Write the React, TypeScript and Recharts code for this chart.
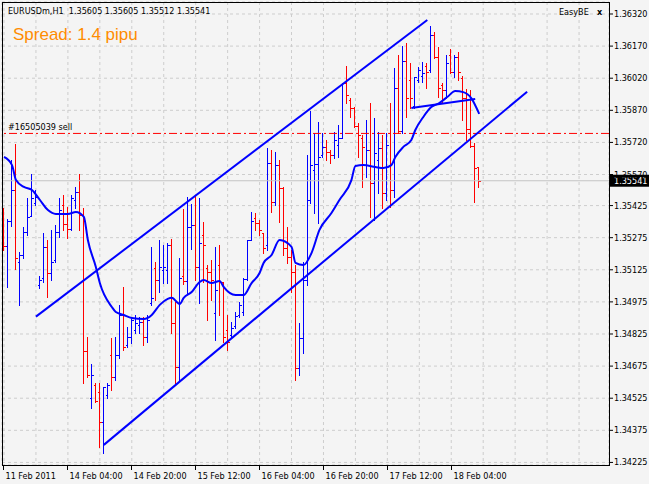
import { ComposedChart, Bar, Line, XAxis, YAxis, CartesianGrid, ReferenceLine } from 'recharts';

// EURUSDm H1 bars, 11 Feb - 18 Feb 2011
const opens = [
  1.35395, 1.35236, 1.35353, 1.35498, 1.35161, 1.35194, 1.35302, 1.35376, 1.35437, 1.35054,
  1.35087, 1.35232, 1.35110, 1.35171, 1.35302, 1.35428, 1.35339, 1.35316, 1.35451, 1.35488,
  1.35381, 1.34746, 1.34526, 1.34587, 1.34554, 1.34414, 1.34540, 1.34727, 1.34624, 1.34727,
  1.34914, 1.34774, 1.34811, 1.34844, 1.34867, 1.34881, 1.34811, 1.34970, 1.35133, 1.35077,
  1.35124, 1.35124, 1.35241, 1.34877, 1.34671, 1.35096, 1.35073, 1.35325, 1.35334, 1.35138,
  1.35288, 1.35133, 1.35115, 1.34923, 1.35147, 1.35068, 1.34844, 1.34821, 1.34863, 1.34914,
  1.34928, 1.35082, 1.35264, 1.35367, 1.35344, 1.35297, 1.35241, 1.35624, 1.35442, 1.35614,
  1.35507, 1.35227, 1.35185, 1.35115, 1.34666, 1.34807, 1.35077, 1.35451, 1.35591, 1.35619,
  1.35661, 1.35699, 1.35675, 1.35661, 1.35708, 1.35741, 1.35997, 1.35918, 1.35881, 1.35797,
  1.35741, 1.35614, 1.35685, 1.35530, 1.35638, 1.35694, 1.35484, 1.35764, 1.35498, 1.35974,
  1.35773, 1.36100, 1.36011, 1.35890, 1.36011, 1.36030, 1.36077, 1.36058, 1.36222, 1.36119,
  1.35988, 1.35965, 1.36128, 1.36049, 1.36119, 1.36021, 1.35927, 1.35783, 1.35703, 1.35605,
];
const highs = [
  1.35414, 1.35362, 1.35638, 1.35713, 1.35208, 1.35325, 1.35460, 1.35572, 1.35498, 1.35096,
  1.35297, 1.35264, 1.35311, 1.35334, 1.35460, 1.35474, 1.35418, 1.35474, 1.35512, 1.35572,
  1.35414, 1.34811, 1.34685, 1.34596, 1.34596, 1.34578, 1.34596, 1.34807, 1.34811, 1.34961,
  1.35045, 1.34858, 1.34895, 1.34914, 1.34905, 1.34905, 1.34914, 1.35232, 1.35161, 1.35264,
  1.35241, 1.35250, 1.35269, 1.34975, 1.35180, 1.35409, 1.35465, 1.35432, 1.35474, 1.35460,
  1.35348, 1.35147, 1.35171, 1.35232, 1.35241, 1.35068, 1.34914, 1.34881, 1.34928, 1.34975,
  1.35087, 1.35264, 1.35395, 1.35390, 1.35358, 1.35297, 1.35694, 1.35685, 1.35675, 1.35638,
  1.35512, 1.35325, 1.35218, 1.35147, 1.34877, 1.35161, 1.35661, 1.35867, 1.35764, 1.35815,
  1.35764, 1.35731, 1.35685, 1.35769, 1.35801, 1.35997, 1.36077, 1.35927, 1.35885, 1.35811,
  1.35755, 1.35825, 1.35904, 1.35834, 1.35769, 1.35755, 1.35764, 1.35904, 1.36067, 1.36128,
  1.36170, 1.36184, 1.36091, 1.36025, 1.36072, 1.36095, 1.36091, 1.36264, 1.36236, 1.36166,
  1.35997, 1.36128, 1.36156, 1.36128, 1.36142, 1.36030, 1.35969, 1.35965, 1.35717, 1.35605,
];
const lows = [
  1.35218, 1.35045, 1.35330, 1.35129, 1.34961, 1.35180, 1.35288, 1.35376, 1.35428, 1.35040,
  1.35068, 1.34998, 1.35077, 1.35161, 1.35278, 1.35311, 1.35274, 1.35311, 1.35414, 1.35311,
  1.34596, 1.34624, 1.34480, 1.34508, 1.34298, 1.34270, 1.34526, 1.34564, 1.34610, 1.34713,
  1.34751, 1.34765, 1.34783, 1.34830, 1.34830, 1.34774, 1.34788, 1.34961, 1.34984, 1.35021,
  1.35063, 1.35063, 1.34830, 1.34596, 1.34610, 1.35059, 1.35017, 1.35222, 1.35077, 1.34970,
  1.35068, 1.34891, 1.34984, 1.34797, 1.34914, 1.34788, 1.34751, 1.34811, 1.34853, 1.34905,
  1.34914, 1.35077, 1.35264, 1.35311, 1.35288, 1.35204, 1.35218, 1.35395, 1.35428, 1.35348,
  1.35194, 1.35157, 1.35021, 1.34610, 1.34634, 1.34737, 1.35054, 1.35437, 1.35390, 1.35344,
  1.35652, 1.35638, 1.35624, 1.35647, 1.35652, 1.35741, 1.35904, 1.35839, 1.35792, 1.35652,
  1.35512, 1.35558, 1.35372, 1.35358, 1.35484, 1.35414, 1.35451, 1.35418, 1.35465, 1.35764,
  1.35764, 1.35839, 1.35881, 1.35881, 1.36002, 1.36002, 1.35974, 1.36049, 1.36114, 1.35932,
  1.35909, 1.35927, 1.36044, 1.36025, 1.36011, 1.35825, 1.35731, 1.35699, 1.35442, 1.35512,
];
const closes = [
  1.35236, 1.35353, 1.35498, 1.35180, 1.35194, 1.35302, 1.35372, 1.35460, 1.35465, 1.35077,
  1.35232, 1.35110, 1.35161, 1.35302, 1.35404, 1.35339, 1.35316, 1.35460, 1.35488, 1.35381,
  1.34746, 1.34634, 1.34634, 1.34512, 1.34414, 1.34578, 1.34587, 1.34624, 1.34727, 1.34914,
  1.34765, 1.34811, 1.34891, 1.34877, 1.34881, 1.34811, 1.34891, 1.34993, 1.35077, 1.35138,
  1.35138, 1.35241, 1.34877, 1.34671, 1.35087, 1.35073, 1.35325, 1.35334, 1.35138, 1.35250,
  1.35241, 1.35115, 1.35077, 1.35031, 1.35068, 1.34811, 1.34788, 1.34853, 1.34909, 1.34961,
  1.35082, 1.35264, 1.35353, 1.35344, 1.35311, 1.35227, 1.35624, 1.35442, 1.35614, 1.35507,
  1.35227, 1.35185, 1.35115, 1.34666, 1.34807, 1.35077, 1.35451, 1.35614, 1.35619, 1.35652,
  1.35699, 1.35675, 1.35661, 1.35731, 1.35741, 1.35997, 1.35941, 1.35881, 1.35797, 1.35755,
  1.35699, 1.35685, 1.35530, 1.35671, 1.35694, 1.35484, 1.35708, 1.35498, 1.35974, 1.35773,
  1.36100, 1.35927, 1.35927, 1.36025, 1.36058, 1.36044, 1.36049, 1.36222, 1.36119, 1.35974,
  1.35965, 1.36091, 1.36049, 1.36119, 1.36049, 1.35927, 1.35783, 1.35703, 1.35600, 1.35541,
];

// moving average, read at some bars
const maBars = [0, 2, 3, 5, 7, 9, 11, 13, 16, 18, 20, 21, 23, 24, 27, 28, 30, 32, 35, 37, 39, 41, 42, 44, 45, 47, 49, 50, 52, 54, 55, 58, 60, 62, 64, 65, 67, 69, 72, 73, 75, 77, 79, 82, 84, 87, 88, 90, 93, 95, 97, 98, 100, 102, 103, 105, 107, 109, 111, 113, 115, 117, 119];
const maValues = [1.35652, 1.35614, 1.35544, 1.35512, 1.35498, 1.35451, 1.35404, 1.35386, 1.35386, 1.35395, 1.35372, 1.35264, 1.35138, 1.35063, 1.34951, 1.34928, 1.34914, 1.34900, 1.34895, 1.34914, 1.34961, 1.34989, 1.34994, 1.34965, 1.34994, 1.35021, 1.35068, 1.35077, 1.35063, 1.35073, 1.35045, 1.35007, 1.35007, 1.35063, 1.35110, 1.35157, 1.35194, 1.35264, 1.35232, 1.35157, 1.35147, 1.35203, 1.35311, 1.35390, 1.35451, 1.35544, 1.35610, 1.35614, 1.35605, 1.35600, 1.35614, 1.35652, 1.35699, 1.35731, 1.35778, 1.35839, 1.35885, 1.35904, 1.35932, 1.35960, 1.35955, 1.35927, 1.35853];

// trend lines: [bar, price]
const upperChannel = [[8, 1.34906], [106, 1.36292]];
const lowerChannel = [[25, 1.34307], [131, 1.35957]];
const shortTrend = [[102, 1.35881], [118, 1.35923]];

const timeLabels = ['11 Feb 2011', '14 Feb 04:00', '14 Feb 20:00', '15 Feb 12:00', '16 Feb 04:00', '16 Feb 20:00', '17 Feb 12:00', '18 Feb 04:00'];
const priceTicks = [1.3632, 1.3617, 1.3602, 1.3587, 1.3572, 1.3557, 1.35425, 1.35275, 1.35125, 1.34975, 1.34825, 1.34675, 1.34525, 1.34375, 1.34225];

const bidPrice = 1.35541;
const orderPrice = 1.35762;
const slots = 152;

const FONT = "'DejaVu Sans Condensed', 'DejaVu Sans', sans-serif";

const pointAt = (line: number[][], i: number) => {
  const p = line.find((d) => d[0] === i);
  return p ? p[1] : null;
};

const data = Array.from({ length: slots }, (_, i) => {
  const has = i < opens.length;
  const m = maBars.indexOf(i);
  return {
    i,
    open: has ? opens[i] : null,
    high: has ? highs[i] : null,
    low: has ? lows[i] : null,
    close: has ? closes[i] : null,
    range: has ? [lows[i], highs[i]] : null,
    ma: m >= 0 ? maValues[m] : null,
    upper: pointAt(upperChannel, i),
    lower: pointAt(lowerChannel, i),
    trend: pointAt(shortTrend, i),
  };
});

const gridBars = Array.from({ length: slots / 8 }, (_, k) => k * 8);

const OhlcBar = (props: any) => {
  const { x, y, width, height, payload } = props;
  if (!payload || payload.high == null) return null;
  const top = Math.min(y, y + height);
  const bottom = Math.max(y, y + height);
  const span = payload.high - payload.low;
  const toY = (v: number) => (span > 0 ? top + ((payload.high - v) / span) * (bottom - top) : top);
  const cx = Math.floor(x + width / 2) + 0.5;
  const yo = Math.round(toY(payload.open)) + 0.5;
  const yc = Math.round(toY(payload.close)) + 0.5;
  const color = payload.close < payload.open ? '#ff0000' : '#0000ff';
  return (
    <g stroke={color} strokeWidth={1} shapeRendering="crispEdges">
      <line x1={cx} y1={Math.round(top)} x2={cx} y2={Math.round(bottom) + 1} />
      <line x1={cx - 2} y1={yo} x2={cx} y2={yo} />
      <line x1={cx} y1={yc} x2={cx + 2} y2={yc} />
    </g>
  );
};

const TimeTick = ({ x, y, payload }: any) => {
  if (payload.value % 16 !== 0) return null;
  const label = timeLabels[payload.value / 16];
  if (!label) return null;
  const tx = Math.floor(x) + 0.5;
  return (
    <g>
      <line x1={tx} y1={y} x2={tx} y2={y + 5} stroke="#000" shapeRendering="crispEdges" />
      <text x={tx + 2} y={y + 14} fontSize={9} fontFamily={FONT} fill="#000">
        {label}
      </text>
    </g>
  );
};

const PriceTick = ({ x, y, payload }: any) => (
  <text x={x} y={y + 3} fontSize={9} fontFamily={FONT} fill="#000">
    {payload.value.toFixed(5)}
  </text>
);

const BidLabel = ({ viewBox }: any) => {
  if (!viewBox) return null;
  const bx = viewBox.x + viewBox.width + 1;
  return (
    <g>
      <rect x={bx} y={viewBox.y - 6} width={39} height={12} fill="#000" />
      <text x={bx + 4} y={viewBox.y + 3} fontSize={9} fontFamily={FONT} fill="#fff">
        {bidPrice.toFixed(5)}
      </text>
    </g>
  );
};

const OrderLabel = ({ viewBox }: any) => {
  if (!viewBox) return null;
  return (
    <text x={viewBox.x + 6} y={viewBox.y - 3} fontSize={9} fontFamily={FONT} fill="#000">
      #16505039 sell
    </text>
  );
};

export default function App() {
  return (
    <div style={{ position: 'absolute', left: 0, top: 0, width: 649, height: 484, background: '#f4f4f4' }}>
      <ComposedChart width={649} height={484} data={data} margin={{ top: 2, right: 0, bottom: 0, left: 2 }}>
        <CartesianGrid strokeDasharray="3 3" stroke="#cdcdcd" />
        <XAxis
          dataKey="i"
          type="category"
          ticks={gridBars}
          interval={0}
          height={19}
          axisLine={false}
          tickLine={false}
          tickSize={0}
          tickMargin={0}
          tick={<TimeTick />}
        />
        <YAxis
          orientation="right"
          width={40}
          domain={[1.34213, 1.36376]}
          allowDataOverflow
          ticks={priceTicks}
          interval={0}
          axisLine={false}
          tickSize={4}
          tickMargin={1}
          tickLine={{ stroke: '#000' }}
          tick={<PriceTick />}
        />
        <ReferenceLine y={bidPrice} stroke="#c4c4c4" label={<BidLabel />} />
        <ReferenceLine y={orderPrice} stroke="#ff0000" strokeDasharray="8 3 2 3" label={<OrderLabel />} />
        <Bar dataKey="range" barSize={3} shape={<OhlcBar />} isAnimationActive={false} />
        <Line dataKey="ma" type="monotone" stroke="#0000ff" strokeWidth={2} dot={false} connectNulls isAnimationActive={false} />
        <Line dataKey="upper" type="linear" stroke="#0000ff" strokeWidth={2} dot={false} connectNulls isAnimationActive={false} />
        <Line dataKey="lower" type="linear" stroke="#0000ff" strokeWidth={2} dot={false} connectNulls isAnimationActive={false} />
        <Line dataKey="trend" type="linear" stroke="#0000ff" strokeWidth={2} dot={false} connectNulls isAnimationActive={false} />
      </ComposedChart>
      <div
        style={{
          position: 'absolute',
          left: 2,
          top: 2,
          width: 608,
          height: 464,
          border: '1px solid #000',
          boxSizing: 'border-box',
          pointerEvents: 'none',
        }}
      />
      <svg width={649} height={484} style={{ position: 'absolute', left: 0, top: 0, pointerEvents: 'none' }}>
        <text x={8} y={14} fontSize={9} fontFamily={FONT} fill="#000" style={{ whiteSpace: 'pre' }}>
          {'EURUSDm,H1  1.35605 1.35605 1.35512 1.35541'}
        </text>
        <text x={13} y={40} fontSize={17} fontFamily="'Liberation Sans', Arial, sans-serif" fill="#ff8c00">
          Spread: 1.4 pipu
        </text>
        <text x={559} y={15} fontSize={9} fontFamily={FONT} fill="#000">
          EasyBE
        </text>
        <text x={597} y={15} fontSize={9} fontWeight="bold" fontFamily={FONT} fill="#000">
          x
        </text>
      </svg>
    </div>
  );
}
